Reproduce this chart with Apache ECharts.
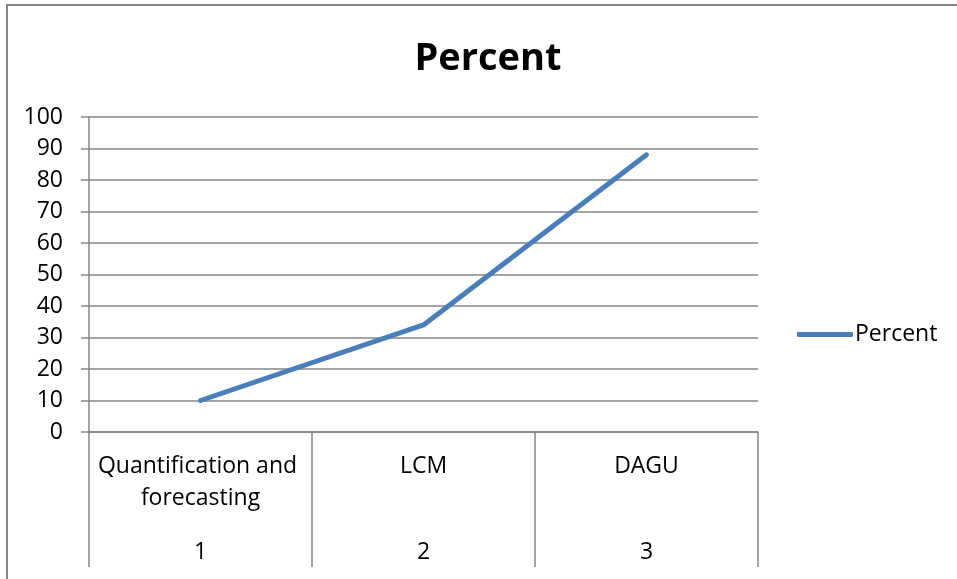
<!DOCTYPE html>
<html>
<head>
<meta charset="utf-8">
<script src="https://cdn.jsdelivr.net/npm/echarts@6/dist/echarts.min.js"></script>
<style>
  html, body { margin: 0; padding: 0; background: #ffffff; }
  #chart { width: 957px; height: 579px; }
</style>
</head>
<body>
<div id="chart"></div>
<script>
// Chart data
var categories = ['Quantification and forecasting', 'LCM', 'DAGU'];
var categoryNumbers = ['1', '2', '3'];
var percentValues = [10, 34, 88];
var seriesName = 'Percent';
var titleText = 'Percent';

var FONT = '"Open Sans", "Noto Sans", sans-serif';
var TEXT_SIZE = 23;
var GRID_COLOR = '#868686';
var LINE_COLOR = '#4a7ebb';

var chart = echarts.init(document.getElementById('chart'), null, { renderer: 'canvas' });

chart.setOption({
  backgroundColor: '#ffffff',
  animation: false,
  title: {
    text: titleText,
    left: 483,
    top: 35,
    textAlign: 'center',
    textStyle: { fontFamily: FONT, fontWeight: 'bold', fontSize: 38, color: '#000000' }
  },
  legend: {
    data: [seriesName],
    left: 797,
    top: 323,
    padding: 0,
    itemWidth: 56,
    itemHeight: 5,
    itemGap: 0,
    icon: 'roundRect',
    textStyle: { fontFamily: FONT, fontSize: TEXT_SIZE, color: '#000000', padding: [0, 0, 0, -3] }
  },
  graphic: [{
    type: 'rect',
    shape: { x: 7, y: 5, width: 1200, height: 1200 },
    style: { fill: 'none', stroke: GRID_COLOR, lineWidth: 2 },
    silent: true
  }],
  grid: { left: 89, right: 199, top: 117, bottom: 147, containLabel: false },
  xAxis: [{
    type: 'category',
    data: categories,
    boundaryGap: true,
    position: 'bottom',
    axisLine: { show: true, lineStyle: { color: GRID_COLOR, width: 1.5 } },
    axisTick: { show: true, interval: 0, length: 135, alignWithLabel: false, lineStyle: { color: GRID_COLOR, width: 1.5 } },
    axisLabel: {
      interval: 0,
      hideOverlap: false,
      margin: 18,
      fontFamily: FONT, fontSize: TEXT_SIZE, color: '#000000',
      lineHeight: 32, width: 218, overflow: 'break', align: 'center'
    },
    splitLine: { show: false }
  }, {
    type: 'category',
    data: categoryNumbers,
    boundaryGap: true,
    position: 'bottom',
    axisLine: { show: false },
    axisTick: { show: false },
    axisLabel: { interval: 0, margin: 104, fontFamily: FONT, fontSize: TEXT_SIZE, color: '#000000', lineHeight: 32 },
    splitLine: { show: false }
  }],
  yAxis: {
    type: 'value',
    min: 0,
    max: 100,
    interval: 10,
    axisLine: { show: true, lineStyle: { color: GRID_COLOR, width: 1.5 } },
    axisTick: { show: true, length: 8, lineStyle: { color: GRID_COLOR, width: 1.5 } },
    axisLabel: { margin: 26, fontFamily: FONT, fontSize: TEXT_SIZE, color: '#000000' },
    splitLine: { show: true, lineStyle: { color: GRID_COLOR, width: 1.5 } }
  },
  series: [{
    name: seriesName,
    type: 'line',
    xAxisIndex: 0,
    data: percentValues,
    showSymbol: false,
    symbol: 'none',
    lineStyle: { color: LINE_COLOR, width: 5, cap: 'round', join: 'round' },
    itemStyle: { color: LINE_COLOR }
  }]
});
</script>
</body>
</html>
